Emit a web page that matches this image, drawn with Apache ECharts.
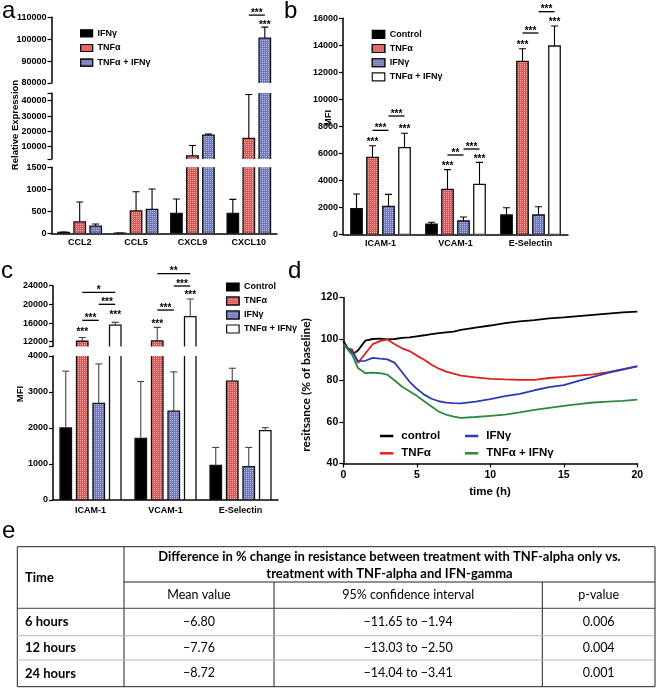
<!DOCTYPE html>
<html lang="en">
<head>
<meta charset="UTF-8" />
<title>Cytokine response figure</title>
<script src="https://cdn.jsdelivr.net/npm/echarts@6/dist/echarts.min.js"></script>
<style>
  html, body { margin: 0; padding: 0; background: #fff; }
  #fig { width: 660px; height: 690px; }
</style>
</head>
<body>
<div id="fig"></div>
<script type="text/javascript">
// ---- panel a: relative expression (broken axis, 3 segments)
var genesA = ['CCL2', 'CCL5', 'CXCL9', 'CXCL10'];
var a_ifn = [20, 3, 450, 450];
var a_ifn_err = [10, 2, 330, 320];
var a_tnf = [260, 510, 4100, 15500];
var a_tnf_err = [450, 435, 6700, 28500];
var a_both = [165, 545, 17500, 100500];
var a_both_err = [45, 462, 800, 5000];
// [category, fromBar, toBar, y, label]
var a_sig = [[3, 2, 2, 107500, '***'], [3, 1, 2, 111000, '***']];

// ---- panel b: MFI
var molsB = ['ICAM-1', 'VCAM-1', 'E-Selectin'];
var b_ctrl = [1900, 760, 1430];
var b_ctrl_err = [1085, 130, 540];
var b_tnf = [5700, 3330, 12810];
var b_tnf_err = [860, 1460, 940];
var b_ifn = [2070, 985, 1430];
var b_ifn_err = [890, 295, 610];
var b_both = [6420, 3700, 13950];
var b_both_err = [1060, 1630, 1480];
var b_sig = [
  [0, 1, 1, 6985, '***'], [0, 3, 3, 7926, '***'], [0, 1, 2, 7700, '***'], [0, 2, 3, 8763, '***'],
  [1, 1, 1, 5207, '***'], [1, 3, 3, 5748, '***'], [1, 1, 2, 5874, '**'], [1, 2, 3, 6318, '***'],
  [2, 1, 1, 14170, '***'], [2, 3, 3, 15874, '***'], [2, 1, 2, 14911, '***'], [2, 2, 3, 16489, '***']
];

// ---- panel c: MFI (broken axis)
var c_ctrl = [2000, 1710, 960];
var c_ctrl_err = [1580, 1580, 500];
var c_tnf = [12100, 12200, 3300];
var c_tnf_err = [800, 2870, 360];
var c_ifn = [2685, 2470, 925];
var c_ifn_err = [1095, 1090, 535];
var c_both = [15570, 17360, 1925];
var c_both_err = [570, 3790, 85];
var c_sig = [
  [0, 1, 1, 14507, '***'], [0, 3, 3, 18085, '***'], [0, 1, 2, 16585, '***'], [0, 2, 3, 20014, '***'], [0, 1, 3, 22585, '*'],
  [1, 1, 1, 16157, '***'], [1, 3, 3, 22499, '***'], [1, 1, 2, 18792, '***'], [1, 2, 3, 23935, '***'], [1, 1, 3, 26571, '**']
];

// ---- panel d: resistance over time
var d_time = [0, 0.3, 0.6, 1, 1.5, 2, 2.5, 3, 3.5, 4, 4.5, 5, 5.5, 6, 6.5, 7, 7.5, 8, 9, 10, 11, 12, 13, 14, 15, 16, 17, 18, 19, 20];
var d_control = [99, 95.5, 92.5, 94.5, 99.2, 100, 100.2, 99.8, 100, 100.5, 100.8, 101.3, 101.8, 102.4, 102.8, 103.2, 103.6, 104.4, 105.5, 106.5, 107.7, 108.5, 109.1, 109.9, 110.4, 111, 111.6, 112.2, 112.8, 113.2];
var d_tnf = [97.5, 95.5, 95, 88.5, 93, 97.5, 99, 99.8, 97.5, 95.5, 94.2, 92, 90, 87.6, 85.7, 84.3, 83.3, 82.4, 81.5, 80.8, 80.5, 80.3, 80.3, 81.2, 81.7, 82.3, 83, 84, 85.4, 86.9];
var d_ifn = [97.5, 95.5, 94, 89.3, 89.5, 90.9, 90.5, 90.2, 88.5, 84, 79.5, 76, 73.2, 71.2, 70, 69.3, 69.1, 69, 69.8, 71, 72.5, 73.6, 75.3, 76.8, 77.8, 79.8, 81.8, 83.7, 85.3, 86.8];
var d_both = [97.5, 95, 92.5, 86, 83.5, 83.8, 83.5, 82.8, 80, 77, 74.8, 72.6, 70, 67.5, 65, 63.5, 62.6, 62, 62.4, 63, 63.6, 64.6, 65.8, 66.8, 67.8, 68.6, 69.4, 69.8, 70.2, 70.8];

// ---- panel e: table
var tblHead = ['Difference in % change in resistance between treatment with TNF-alpha only vs.', 'treatment with TNF-alpha and IFN-gamma'];
var tblCols = ['Mean value', '95% confidence interval', 'p-value'];
var tblTimes = ['6 hours', '12 hours', '24 hours'];
var tblMean = ['−6.80', '−7.76', '−8.72'];
var tblCI = ['−11.65 to −1.94', '−13.03 to −2.50', '−14.04 to −3.41'];
var tblP = ['0.006', '0.004', '0.001'];

var chart = echarts.init(document.getElementById('fig'), null, { renderer: 'canvas' });

var FONT = 'Liberation Sans';
var BW = 11.5; // bar width
var dots = { symbol: 'rect', symbolSize: 1, dashArrayX: [1, 1], dashArrayY: [1, 1], color: 'rgba(255,255,255,0.5)' };
// bars are filled only; outlines come from the error-bar series so that breaks stay open
var blackBar = { color: '#000', borderColor: '#000', borderWidth: 0 };
var redBar = { color: '#e05454', borderColor: '#111', borderWidth: 0, decal: dots };
var blueBar = { color: '#6d76c0', borderColor: '#111', borderWidth: 0, decal: dots };
var whiteBar = { color: '#fff', borderColor: '#111', borderWidth: 0 };

function legStyle(s) {
  return { color: s.color, borderColor: s.borderColor, borderWidth: 1.2, decal: s.decal || 'none' };
}

var grids = [
  { left: 51.5, top: 17.3, width: 225.5, height: 65.7 },  // a top
  { left: 51.5, top: 93, width: 225.5, height: 66 },      // a mid
  { left: 51.5, top: 167.3, width: 225.5, height: 66 },   // a low
  { left: 343, top: 18.3, width: 225, height: 216 },      // b
  { left: 53, top: 285.7, width: 225, height: 60.7 },     // c top
  { left: 53, top: 356, width: 225, height: 144 },        // c low
  { left: 343.3, top: 297.5, width: 294, height: 166 }    // d
];
grids.forEach(function (g) { g.containLabel = false; g.outerBoundsMode = 'none'; });

function plain(v) { return String(v); }
function yAx(gi, min, max, ticks, labels, fs) {
  return {
    type: 'value', gridIndex: gi, min: min, max: max,
    axisLine: { show: true, lineStyle: { color: '#000', width: 1.5 } },
    axisTick: { show: true, length: 4, lineStyle: { color: '#000', width: 1.2 }, customValues: ticks },
    axisLabel: { customValues: labels, formatter: plain, fontSize: fs || 9, fontWeight: 'bold', color: '#000', fontFamily: FONT, margin: 5 },
    splitLine: { show: false }
  };
}
function xCat(gi, cats, show, margin) {
  return {
    type: 'category', gridIndex: gi, data: cats, show: show,
    axisLine: { lineStyle: { color: '#000', width: 1.5 } },
    axisTick: { alignWithLabel: true, length: 3, lineStyle: { color: '#000', width: 1.2 } },
    axisLabel: { interval: 0, fontSize: 9, fontWeight: 'bold', color: '#000', fontFamily: FONT, margin: margin || 5 },
    splitLine: { show: false }
  };
}

var xAxes = [
  xCat(0, genesA, false), xCat(1, genesA, false), xCat(2, genesA, true, 5),
  xCat(3, molsB, true, 5),
  xCat(4, molsB, false), xCat(5, molsB, true, 6),
  {
    type: 'value', gridIndex: 6, min: 0, max: 20, interval: 5,
    axisLine: { lineStyle: { color: '#000', width: 1.5 } },
    axisTick: { length: 4, lineStyle: { color: '#000', width: 1.2 } },
    axisLabel: { fontSize: 10.5, fontWeight: 'bold', color: '#000', fontFamily: FONT, margin: 6 },
    splitLine: { show: false }
  }
];
var yAxes = [
  yAx(0, 80000, 110000, [80000, 90000, 100000, 110000], [80000, 90000, 100000, 110000]),
  yAx(1, 2000, 45000, [2000, 10000, 20000, 30000, 40000, 45000], [10000, 20000, 30000, 40000]),
  yAx(2, 0, 1500, [0, 500, 1000, 1500], [0, 500, 1000, 1500]),
  yAx(3, 0, 16000, [0, 2000, 4000, 6000, 8000, 10000, 12000, 14000, 16000], [0, 2000, 4000, 6000, 8000, 10000, 12000, 14000, 16000]),
  yAx(4, 11000, 24000, [11000, 12000, 16000, 20000, 24000], [12000, 16000, 20000, 24000]),
  yAx(5, 0, 4000, [0, 1000, 2000, 3000, 4000], [0, 1000, 2000, 3000, 4000]),
  yAx(6, 40, 120, [40, 60, 80, 100, 120], [40, 60, 80, 100, 120], 10.5)
];

// bar outline + upward error bar with a cap (clipped to the grid)
function errRender(spacing, n, color) {
  return function (params, api) {
    var cat = api.value(0), bar = api.value(1), mean = api.value(2), err = api.value(3);
    var off = (bar - (n - 1) / 2) * spacing;
    var pb = api.coord([cat, 0]);
    var p0 = api.coord([cat, mean]);
    var p1 = api.coord([cat, mean + err]);
    var x = p0[0] + off;
    var st = { stroke: color, lineWidth: 1.1 };
    return {
      type: 'group', children: [
        { type: 'rect', shape: { x: x - BW / 2, y: p0[1], width: BW, height: pb[1] - p0[1] },
          style: { fill: 'none', stroke: '#111', lineWidth: 1.3 } },
        { type: 'line', shape: { x1: x, y1: p0[1], x2: x, y2: p1[1] }, style: st },
        { type: 'line', shape: { x1: x - 3.5, y1: p1[1], x2: x + 3.5, y2: p1[1] }, style: st }
      ]
    };
  };
}
function sigRender(list, spacing, n) {
  return function (params, api) {
    var item = list[params.dataIndex];
    var p = api.coord([item[0], item[3]]);
    var x0 = p[0] + (item[1] - (n - 1) / 2) * spacing;
    var x1 = p[0] + (item[2] - (n - 1) / 2) * spacing;
    var kids = [];
    var ty = p[1] + 2.4;
    if (item[1] !== item[2]) {
      kids.push({ type: 'line', shape: { x1: x0, y1: p[1], x2: x1, y2: p[1] }, style: { stroke: '#000', lineWidth: 1.3 } });
      ty = p[1] - 2.2;
    }
    kids.push({ type: 'text', x: (x0 + x1) / 2, y: ty, style: { text: item[4], fill: '#000', font: 'bold 10px "Liberation Sans"', align: 'center', verticalAlign: 'middle' } });
    return { type: 'group', children: kids };
  };
}

var series = [];
function addBars(gi, sets, gap, spacing, errColor) {
  var errData = [];
  sets.forEach(function (s, bi) {
    series.push({
      type: 'bar', name: s.name, xAxisIndex: gi, yAxisIndex: gi, data: s.data,
      barWidth: BW, barGap: gap, itemStyle: s.style, clip: true, silent: true
    });
    s.data.forEach(function (v, ci) { errData.push([ci, bi, v, s.err[ci]]); });
  });
  series.push({
    type: 'custom', xAxisIndex: gi, yAxisIndex: gi, data: errData, clip: true, silent: true,
    encode: { x: 0, y: 2 }, renderItem: errRender(spacing, sets.length, errColor), z: 3
  });
}
function addSig(gi, list, spacing, n) {
  series.push({
    type: 'custom', xAxisIndex: gi, yAxisIndex: gi, clip: false, silent: true,
    data: list.map(function (r) { return [r[0], r[3]]; }),
    encode: { x: 0, y: 1 }, renderItem: sigRender(list, spacing, n), z: 4
  });
}

var setsA = [
  { name: 'IFNγ', data: a_ifn, err: a_ifn_err, style: blackBar },
  { name: 'TNFα', data: a_tnf, err: a_tnf_err, style: redBar },
  { name: 'TNFα + IFNγ', data: a_both, err: a_both_err, style: blueBar }
];
var setsB = [
  { name: 'Control', data: b_ctrl, err: b_ctrl_err, style: blackBar },
  { name: 'TNFα', data: b_tnf, err: b_tnf_err, style: redBar },
  { name: 'IFNγ', data: b_ifn, err: b_ifn_err, style: blueBar },
  { name: 'TNFα + IFNγ', data: b_both, err: b_both_err, style: whiteBar }
];
var setsC = [
  { name: 'Control', data: c_ctrl, err: c_ctrl_err, style: blackBar },
  { name: 'TNFα', data: c_tnf, err: c_tnf_err, style: redBar },
  { name: 'IFNγ', data: c_ifn, err: c_ifn_err, style: blueBar },
  { name: 'TNFα + IFNγ', data: c_both, err: c_both_err, style: whiteBar }
];
[0, 1, 2].forEach(function (gi) { addBars(gi, setsA, '39%', 16, '#000'); });
addBars(3, setsB, '39%', 16, '#000');
addBars(4, setsC, '43%', 16.5, '#444');
addBars(5, setsC, '43%', 16.5, '#444');
addSig(0, a_sig, 16, 3);
addSig(3, b_sig, 16, 4);
addSig(4, c_sig, 16.5, 4);

var linesD = [
  { name: 'control', data: d_control, color: '#000' },
  { name: 'TNFα', data: d_tnf, color: '#e0201c' },
  { name: 'IFNγ', data: d_ifn, color: '#2b3db5' },
  { name: 'TNFα + IFNγ', data: d_both, color: '#2d8a3c' }
];
linesD.forEach(function (l) {
  series.push({
    type: 'line', name: l.name, xAxisIndex: 6, yAxisIndex: 6, symbol: 'none', silent: true,
    data: d_time.map(function (t, i) { return [t, l.data[i]]; }),
    lineStyle: { color: l.color, width: 1.8 }, itemStyle: { color: l.color }
  });
});

var legText = { fontSize: 9, fontWeight: 'bold', fontFamily: FONT, color: '#000', lineHeight: 10 };
var legTextD = { fontSize: 11.5, fontWeight: 'bold', fontFamily: FONT, color: '#000', lineHeight: 13, padding: [0, 0, 0, 3] };
function dItem(l) {
  return { name: l.name, itemStyle: { color: l.color, borderWidth: 0, decal: 'none' }, lineStyle: { color: l.color, width: 2.2 } };
}
var legends = [
  { left: 80, top: 28.3, itemWidth: 12, itemHeight: 7, itemGap: 4.7,
    data: setsA.map(function (s) { return { name: s.name, itemStyle: legStyle(s.style) }; }) },
  { left: 371.7, top: 29.3, itemWidth: 12.5, itemHeight: 8, itemGap: 4.2,
    data: setsB.map(function (s) { return { name: s.name, itemStyle: legStyle(s.style) }; }) },
  { left: 226, top: 282, itemWidth: 12.5, itemHeight: 8, itemGap: 4,
    data: setsC.map(function (s) { return { name: s.name, itemStyle: legStyle(s.style) }; }) }
].map(function (l) {
  l.orient = 'vertical'; l.icon = 'rect'; l.selectedMode = false; l.padding = 0; l.textStyle = legText;
  return l;
});
legends.push(
  { left: 380, top: 429.5, data: [dItem(linesD[0]), dItem(linesD[1])] },
  { left: 465, top: 429.5, data: [dItem(linesD[2]), dItem(linesD[3])] }
);
legends.forEach(function (l, i) {
  if (i > 2) {
    l.orient = 'vertical'; l.icon = 'rect'; l.selectedMode = false; l.padding = 0;
    l.itemWidth = 13.3; l.itemHeight = 2.5; l.itemGap = 4.3; l.textStyle = legTextD;
  }
});

// ---- text and table graphics
var graphics = [];
function txt(x, y, s, font, align, rot) {
  graphics.push({
    type: 'text', x: x, y: y, rotation: rot || 0, silent: true,
    style: { text: s, font: font, fill: '#000', align: align || 'center', verticalAlign: 'middle' }
  });
}
function ln(x1, y1, x2, y2, c) {
  graphics.push({ type: 'line', silent: true, shape: { x1: x1, y1: y1, x2: x2, y2: y2 }, style: { stroke: c || '#222', lineWidth: 1 } });
}
var panelFont = '24px "Liberation Sans"';
txt(2, 11.6, 'a', panelFont, 'left');
txt(284, 11.6, 'b', panelFont, 'left');
txt(1, 271.6, 'c', panelFont, 'left');
txt(288, 271.6, 'd', panelFont, 'left');
txt(2, 531.6, 'e', panelFont, 'left');

txt(15, 125, 'Relative Expression', 'bold 9.5px "Liberation Sans"', 'center', Math.PI / 2);
txt(328, 118, 'MFI', 'bold 9.5px "Liberation Sans"', 'center', Math.PI / 2);
txt(20, 394, 'MFI', 'bold 9.5px "Liberation Sans"', 'center', Math.PI / 2);
txt(306, 385, 'resitsance (% of baseline)', 'bold 12px Lato', 'center', Math.PI / 2);
txt(490, 491.7, 'time (h)', 'bold 11.5px "Liberation Sans"', 'center');

var TX = [17.3, 124, 274, 542.3, 655];
var TY = [546.7, 582, 608.3, 635.7, 660, 686.7];
var tb = 'bold 13px Lato', tr = '12.5px Lato';
ln(TX[0], TY[0], TX[4], TY[0]);
ln(TX[0], TY[5], TX[4], TY[5]);
ln(TX[0], TY[0], TX[0], TY[5]);
ln(TX[4], TY[0], TX[4], TY[5]);
ln(TX[1], TY[0], TX[1], TY[5]);
ln(TX[1], TY[1], TX[4], TY[1]);
ln(TX[2], TY[1], TX[2], TY[5]);
ln(TX[3], TY[1], TX[3], TY[5]);
ln(TX[0], TY[2], TX[4], TY[2], '#444');
ln(TX[0], TY[3], TX[4], TY[3], '#b8b8b8');
ln(TX[0], TY[4], TX[4], TY[4], '#b8b8b8');
txt(25, (TY[0] + TY[2]) / 2, 'Time', tb, 'left');
txt((TX[1] + TX[4]) / 2, 556.7, tblHead[0], tb);
txt((TX[1] + TX[4]) / 2, 574, tblHead[1], tb);
tblCols.forEach(function (c, i) { txt((TX[i + 1] + TX[i + 2]) / 2, (TY[1] + TY[2]) / 2, c, tr); });
tblTimes.forEach(function (t, r) {
  var y = (TY[r + 2] + TY[r + 3]) / 2;
  txt(25, y, t, tb, 'left');
  txt((TX[1] + TX[2]) / 2, y, tblMean[r], tr);
  txt((TX[2] + TX[3]) / 2, y, tblCI[r], tr);
  txt((TX[3] + TX[4]) / 2, y, tblP[r], tr);
});

chart.setOption({
  animation: false,
  backgroundColor: '#fff',
  grid: grids,
  xAxis: xAxes,
  yAxis: yAxes,
  legend: legends,
  series: series,
  graphic: graphics
});
</script>
</body>
</html>
